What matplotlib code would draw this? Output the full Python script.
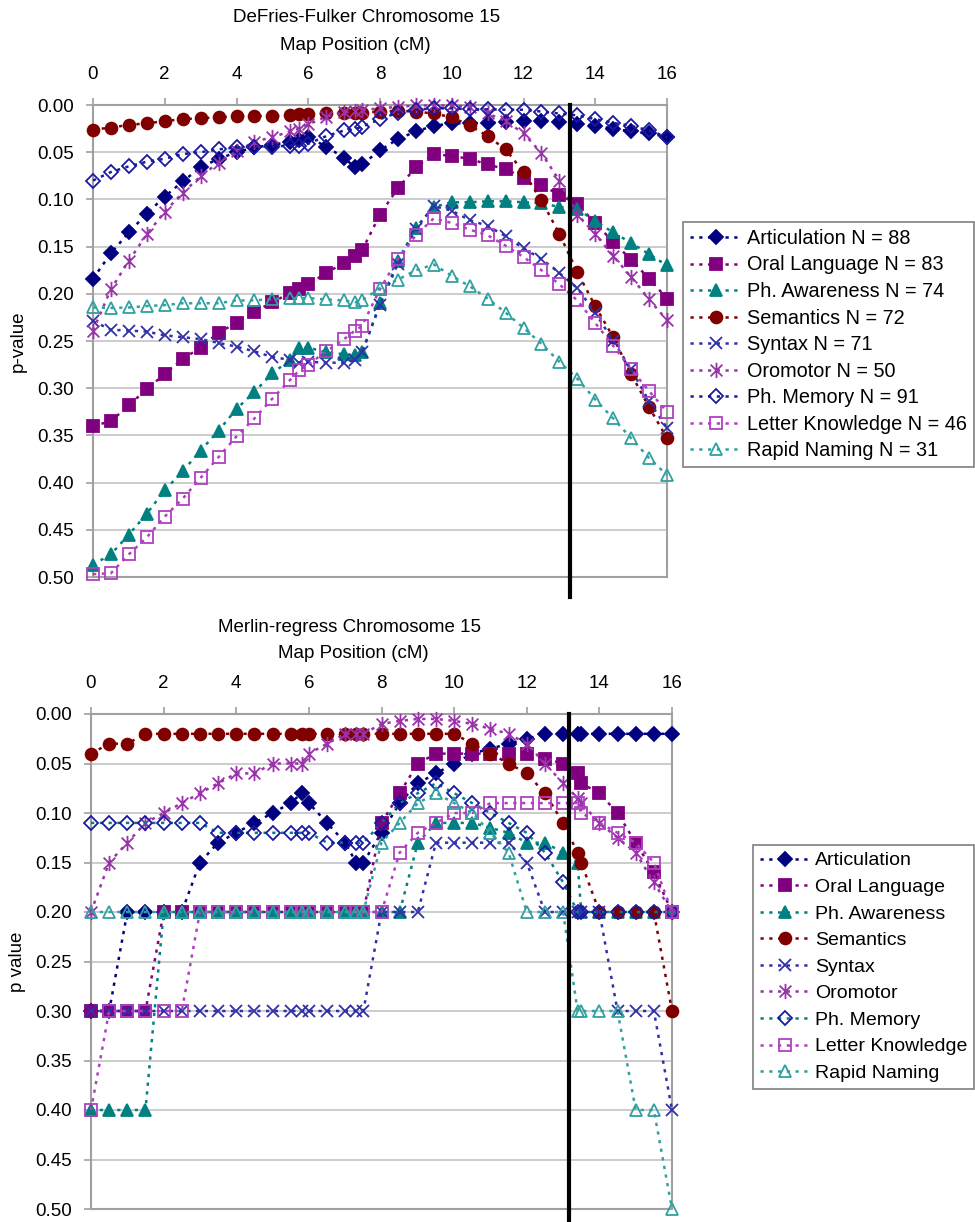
# Chromosome 15 linkage: DeFries-Fulker vs Merlin-regress p-values
import matplotlib.pyplot as plt
from matplotlib.path import Path
import numpy as np

plt.rcParams['font.family'] = ['Liberation Sans', 'DejaVu Sans']

# map positions (cM)
x_top = [0, 0.5, 1, 1.5, 2, 2.5, 3, 3.5, 4, 4.5, 5, 5.5,
         5.75, 6, 6.5, 7, 7.3, 7.5,
         8, 8.5, 9, 9.5, 10, 10.5, 11, 11.5, 12, 12.5, 13, 13.5,
         14, 14.5, 15, 15.5, 16]
x_bot = [0, 0.5, 1, 1.5, 2, 2.5, 3, 3.5, 4, 4.5, 5, 5.5,
         5.8, 6, 6.5, 7, 7.3, 7.5,
         8, 8.5, 9, 9.5, 10, 10.5, 11, 11.5, 12, 12.5, 13,
         13.4, 13.5,
         14, 14.5, 15, 15.5, 16]

traits = ["Articulation", "Oral Language", "Ph. Awareness", "Semantics", "Syntax",
          "Oromotor", "Ph. Memory", "Letter Knowledge", "Rapid Naming"]
n_subjects = [88, 83, 74, 72, 71, 50, 91, 46, 31]

# DeFries-Fulker p-values
df_articulation = [0.184, 0.157, 0.135, 0.115, 0.097, 0.081, 0.066, 0.057, 0.050, 0.045, 0.042, 0.039,
                   0.037, 0.034, 0.044, 0.056, 0.066, 0.063,
                   0.048, 0.036, 0.028, 0.022, 0.0195, 0.0195, 0.019, 0.018, 0.017, 0.017, 0.018, 0.020,
                   0.022, 0.025, 0.028, 0.030, 0.034]
df_oral = [0.340, 0.335, 0.318, 0.301, 0.285, 0.269, 0.257, 0.241, 0.231, 0.219, 0.209, 0.199,
           0.195, 0.190, 0.178, 0.167, 0.160, 0.154,
           0.116, 0.088, 0.066, 0.052, 0.054, 0.057, 0.063, 0.068, 0.077, 0.085, 0.095, 0.105,
           0.125, 0.145, 0.164, 0.184, 0.205]
df_awareness = [0.487, 0.476, 0.455, 0.433, 0.408, 0.388, 0.366, 0.345, 0.322, 0.304, 0.284, 0.270,
                0.257, 0.257, 0.262, 0.264, 0.265, 0.262,
                0.210, 0.165, 0.130, 0.108, 0.103, 0.103, 0.102, 0.102, 0.103, 0.104, 0.108, 0.110,
                0.123, 0.135, 0.146, 0.158, 0.170]
df_semantics = [0.026, 0.024, 0.021, 0.0195, 0.017, 0.015, 0.014, 0.013, 0.012, 0.0117, 0.0117, 0.0106,
                0.010, 0.0099, 0.009, 0.008, 0.008, 0.008,
                0.007, 0.006, 0.007, 0.009, 0.013, 0.0216, 0.033, 0.047, 0.071, 0.101, 0.1365, 0.177,
                0.213, 0.246, 0.285, 0.320, 0.353]
df_syntax = [0.229, 0.238, 0.239, 0.240, 0.244, 0.246, 0.248, 0.252, 0.256, 0.261, 0.267, 0.270,
             0.273, 0.272, 0.273, 0.273, 0.270, 0.262,
             0.212, 0.168, 0.131, 0.107, 0.112, 0.122, 0.128, 0.139, 0.152, 0.163, 0.178, 0.194,
             0.220, 0.250, 0.280, 0.314, 0.342]
df_oromotor = [0.239, 0.195, 0.165, 0.137, 0.113, 0.093, 0.0755, 0.061, 0.049, 0.039, 0.034, 0.028,
               0.025, 0.0206, 0.0124, 0.0078, 0.006, 0.0053,
               0.0035, 0.002, 0.0005, 0.0005, 0.0005, 0.002, 0.009, 0.017, 0.030, 0.051, 0.080, 0.116,
               0.1365, 0.160, 0.182, 0.206, 0.228]
df_memory = [0.080, 0.071, 0.065, 0.060, 0.057, 0.052, 0.050, 0.047, 0.045, 0.044, 0.044, 0.043,
             0.043, 0.041, 0.033, 0.027, 0.0255, 0.023,
             0.015, 0.008, 0.005, 0.0035, 0.0035, 0.0046, 0.0046, 0.005, 0.005, 0.007, 0.009, 0.011,
             0.015, 0.019, 0.022, 0.027, 0.034]
df_letter = [0.497, 0.496, 0.476, 0.458, 0.436, 0.417, 0.395, 0.373, 0.351, 0.332, 0.311, 0.291,
             0.281, 0.275, 0.261, 0.248, 0.239, 0.234,
             0.195, 0.163, 0.138, 0.120, 0.125, 0.132, 0.138, 0.149, 0.161, 0.175, 0.190, 0.207,
             0.231, 0.255, 0.280, 0.303, 0.325]
df_naming = [0.2145, 0.215, 0.2145, 0.213, 0.212, 0.210, 0.210, 0.210, 0.207, 0.207, 0.2055, 0.2045,
             0.2045, 0.2045, 0.206, 0.207, 0.209, 0.207,
             0.194, 0.185, 0.175, 0.169, 0.181, 0.192, 0.205, 0.220, 0.236, 0.253, 0.272, 0.290,
             0.312, 0.332, 0.353, 0.374, 0.392]

# Merlin-regress p-values
mr_articulation = [0.30, 0.30, 0.20, 0.20, 0.20, 0.20, 0.15, 0.13, 0.12, 0.11, 0.10, 0.09,
                   0.08, 0.09, 0.11, 0.13, 0.15, 0.15,
                   0.12, 0.09, 0.07, 0.06, 0.05, 0.04, 0.035, 0.03, 0.025, 0.02, 0.02,
                   0.02, 0.02,
                   0.02, 0.02, 0.02, 0.02, 0.02]
mr_oral = [0.30, 0.30, 0.30, 0.30, 0.20, 0.20, 0.20, 0.20, 0.20, 0.20, 0.20, 0.20,
           0.20, 0.20, 0.20, 0.20, 0.20, 0.20,
           0.11, 0.08, 0.05, 0.04, 0.04, 0.04, 0.04, 0.04, 0.04, 0.045, 0.05,
           0.06, 0.07,
           0.08, 0.10, 0.13, 0.16, 0.20]
mr_awareness = [0.40, 0.40, 0.40, 0.40, 0.20, 0.20, 0.20, 0.20, 0.20, 0.20, 0.20, 0.20,
                0.20, 0.20, 0.20, 0.20, 0.20, 0.20,
                0.20, 0.20, 0.13, 0.11, 0.11, 0.11, 0.115, 0.12, 0.13, 0.13, 0.14,
                0.15, 0.20,
                0.20, 0.20, 0.20, 0.20, 0.20]
mr_semantics = [0.04, 0.03, 0.03, 0.02, 0.02, 0.02, 0.02, 0.02, 0.02, 0.02, 0.02, 0.02,
                0.02, 0.02, 0.02, 0.02, 0.02, 0.02,
                0.02, 0.02, 0.02, 0.02, 0.02, 0.03, 0.04, 0.05, 0.06, 0.08, 0.11,
                0.14, 0.15,
                0.20, 0.20, 0.20, 0.20, 0.30]
mr_syntax = [0.30, 0.30, 0.30, 0.30, 0.30, 0.30, 0.30, 0.30, 0.30, 0.30, 0.30, 0.30,
             0.30, 0.30, 0.30, 0.30, 0.30, 0.30,
             0.20, 0.20, 0.20, 0.13, 0.13, 0.13, 0.13, 0.13, 0.15, 0.20, 0.20,
             0.20, 0.20,
             0.20, 0.30, 0.30, 0.30, 0.40]
mr_oromotor = [0.20, 0.15, 0.13, 0.11, 0.10, 0.09, 0.08, 0.07, 0.06, 0.06, 0.05, 0.05,
               0.05, 0.04, 0.03, 0.02, 0.02, 0.02,
               0.01, 0.007, 0.005, 0.005, 0.007, 0.01, 0.015, 0.02, 0.03, 0.05, 0.07,
               0.085, 0.09,
               0.11, 0.125, 0.14, 0.17, 0.20]
mr_memory = [0.11, 0.11, 0.11, 0.11, 0.11, 0.11, 0.11, 0.12, 0.12, 0.12, 0.12, 0.12,
             0.12, 0.12, 0.13, 0.13, 0.13, 0.13,
             0.11, 0.09, 0.08, 0.07, 0.08, 0.09, 0.10, 0.11, 0.12, 0.14, 0.17,
             0.20, 0.20,
             0.20, 0.20, 0.20, 0.20, 0.20]
mr_letter = [0.40, 0.30, 0.30, 0.30, 0.30, 0.30, 0.20, 0.20, 0.20, 0.20, 0.20, 0.20,
             0.20, 0.20, 0.20, 0.20, 0.20, 0.20,
             0.20, 0.14, 0.12, 0.11, 0.10, 0.10, 0.09, 0.09, 0.09, 0.09, 0.09,
             0.09, 0.10,
             0.11, 0.12, 0.13, 0.15, 0.20]
mr_naming = [0.20, 0.20, 0.20, 0.20, 0.20, 0.20, 0.20, 0.20, 0.20, 0.20, 0.20, 0.20,
             0.20, 0.20, 0.20, 0.20, 0.20, 0.20,
             0.13, 0.11, 0.09, 0.08, 0.09, 0.10, 0.12, 0.14, 0.20, 0.20, 0.20,
             0.30, 0.30,
             0.30, 0.30, 0.40, 0.40, 0.50]

top_series = [df_articulation, df_oral, df_awareness, df_semantics, df_syntax,
              df_oromotor, df_memory, df_letter, df_naming]
bot_series = [mr_articulation, mr_oral, mr_awareness, mr_semantics, mr_syntax,
              mr_oromotor, mr_memory, mr_letter, mr_naming]

# excel style asterisk marker (x with a vertical bar)
star = Path([(-1, -1), (1, 1), (-1, 1), (1, -1), (0, -1.3), (0, 1.3)],
            [Path.MOVETO, Path.LINETO, Path.MOVETO, Path.LINETO, Path.MOVETO, Path.LINETO])

# marker, colour, filled, size
styles = [('D', '#000080', True, 7),
          ('s', '#800080', True, 8),
          ('^', '#008080', True, 8.5),
          ('o', '#800000', True, 8.5),
          ('x', '#3030a8', False, 8.5),
          (star, '#9933aa', False, 11),
          ('D', '#1a1aa0', False, 7),
          ('s', '#b040c0', False, 8),
          ('^', '#30a0a0', False, 8.5)]

W, H = 975, 1222
fig = plt.figure(figsize=(W / 100, H / 100), dpi=100)


def px_axes(left, top, right, bottom):
    return fig.add_axes([left / W, 1 - bottom / H, (right - left) / W, (bottom - top) / H])


def draw(ax, x, series, line_colors):
    handles = []
    for vals, (mk, col, filled, ms), lc in zip(series, styles, line_colors):
        h, = ax.plot(x, vals, ls=(0, (1.3, 2.2)), lw=1.8, color=lc, marker=mk, ms=ms,
                     mfc=col if filled else 'none', mec=col, mew=1.3, clip_on=False, zorder=3)
        handles.append(h)
    ax.set_xlim(0, 16)
    ax.set_ylim(0.5, 0)
    ax.set_xticks(range(0, 17, 2))
    yt = np.arange(0, 0.501, 0.05)
    ax.set_yticks(yt)
    ax.set_yticklabels([f"{v:.2f}" for v in yt])
    ax.xaxis.tick_top()
    ax.tick_params(axis='x', length=5, width=1.2, color='#a0a0a0', labelsize=13.5, pad=11)
    ax.tick_params(axis='y', length=5, width=1.2, color='#a0a0a0', labelsize=13.5, pad=9)
    ax.yaxis.grid(True, color='#c8c8c8', lw=1.3)
    ax.set_axisbelow(True)
    for s in ax.spines.values():
        s.set_color('#a0a0a0')
        s.set_linewidth(1.5)
    return handles


def add_legend(handles, labels, left, top, size, spacing):
    leg = fig.legend(handles, labels, loc='upper left', bbox_to_anchor=(left / W, 1 - top / H),
                     borderaxespad=0, fontsize=size, numpoints=1, handlelength=2.6,
                     handletextpad=0.25, labelspacing=spacing, borderpad=0.35,
                     fancybox=False, framealpha=1)
    leg.get_frame().set_edgecolor('#808080')
    leg.get_frame().set_linewidth(1.2)
    return leg


# top: DeFries-Fulker
ax1 = px_axes(93, 105, 667, 577)
h1 = draw(ax1, x_top, top_series, [s[1] for s in styles])
ax1.plot([13.3, 13.3], [0, 0.521], color='black', lw=3, clip_on=False, zorder=4)
fig.text(367 / W, 1 - 17 / H, "DeFries-Fulker Chromosome 15", ha='center', va='center', fontsize=13.5)
fig.text(355 / W, 1 - 45 / H, "Map Position (cM)", ha='center', va='center', fontsize=13.5)
fig.text(18 / W, 1 - 341 / H, "p-value", rotation=90, ha='center', va='center', fontsize=13.5)
add_legend(h1, [f"{t} N = {n}" for t, n in zip(traits, n_subjects)], 683, 222, 14.3, 0.38)

# bottom: Merlin-regress
bot_lines = [s[1] for s in styles]
bot_lines[6] = '#008080'
ax2 = px_axes(91, 714, 672, 1209)
h2 = draw(ax2, x_bot, bot_series, bot_lines)
ax2.plot([13.15, 13.15], [0, 0.53], color='black', lw=3, clip_on=False, zorder=4)
fig.text(349 / W, 1 - 627 / H, "Merlin-regress Chromosome 15", ha='center', va='center', fontsize=13.5)
fig.text(353 / W, 1 - 653 / H, "Map Position (cM)", ha='center', va='center', fontsize=13.5)
fig.text(18 / W, 1 - 962 / H, "p value", rotation=90, ha='center', va='center', fontsize=13.5)
add_legend(h2, traits, 753, 845, 14, 0.46)

fig.savefig('out.png', dpi=100)
